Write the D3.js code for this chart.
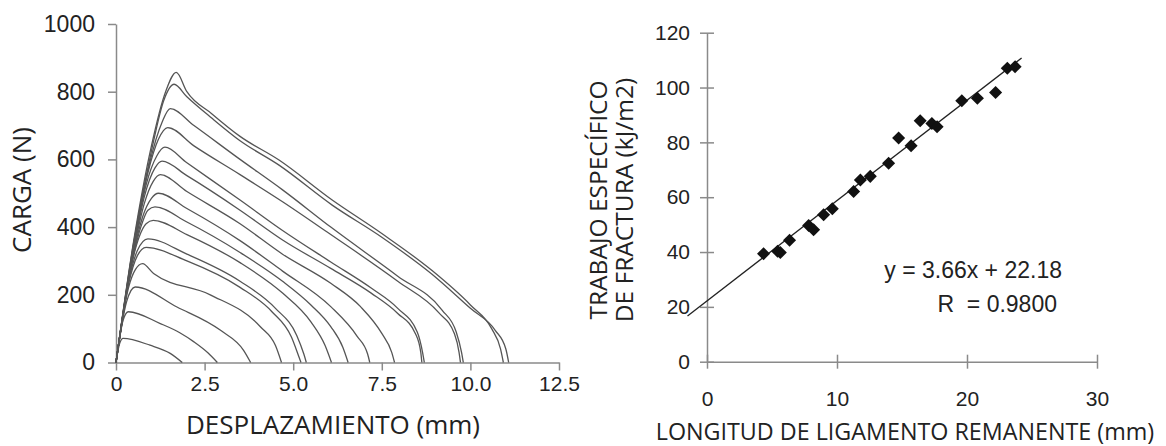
<!DOCTYPE html>
<html>
<head>
<meta charset="utf-8">
<script src="https://cdn.jsdelivr.net/npm/d3@7"></script>
<style>
  body { margin: 0; background: #fff; }
  svg { display: block; }
</style>
</head>
<body>
<div id="chart"></div>
<script>
// load-displacement curves, [mm, N]
const loadCurves = [
  [[0,0],[0.5,360],[1.0,640],[1.4,800],[1.7,857],[2.0,800],[2.7,735],[3.5,668],[4.6,598],[6.1,480],[7.5,381],[8.9,273],[10.0,170],[10.6,100],[10.85,40],[10.93,0]],
  [[0,0],[0.5,355],[1.0,625],[1.35,775],[1.64,822],[2.0,785],[2.7,722],[3.5,655],[4.6,583],[6.1,465],[7.5,370],[8.9,262],[10.0,160],[10.7,95],[11.0,40],[11.08,0]],
  [[0,0],[0.5,350],[0.95,590],[1.3,710],[1.53,750],[2.2,700],[3.5,600],[4.7,510],[6.06,400],[7.95,255],[9.2,155],[9.6,90],[9.75,30],[9.8,0]],
  [[0,0],[0.5,345],[0.9,560],[1.2,660],[1.46,694],[2.2,640],[3.5,555],[4.7,475],[6.06,378],[7.95,240],[9.1,148],[9.55,85],[9.68,30],[9.72,0]],
  [[0,0],[0.5,340],[0.85,525],[1.15,610],[1.38,636],[2.0,590],[3.5,480],[4.7,390],[6.06,297],[7.2,220],[7.95,160],[8.5,90],[8.65,30],[8.7,0]],
  [[0,0],[0.5,335],[0.8,490],[1.1,575],[1.3,595],[2.0,552],[3.5,450],[4.7,362],[6.06,278],[7.2,205],[7.95,145],[8.45,85],[8.6,30],[8.63,0]],
  [[0,0],[0.5,330],[0.8,470],[1.05,535],[1.25,555],[2.0,505],[3.5,410],[4.7,320],[6.06,234],[6.9,165],[7.5,86],[7.78,30],[7.86,0]],
  [[0,0],[0.45,300],[0.75,430],[1.0,485],[1.2,500],[2.0,455],[3.5,360],[4.7,270],[6.06,165],[6.8,78],[7.1,25],[7.16,0]],
  [[0,0],[0.45,295],[0.7,400],[0.9,450],[1.1,460],[2.0,415],[3.5,325],[4.7,240],[5.5,170],[6.06,106],[6.4,45],[6.55,0]],
  [[0,0],[0.4,270],[0.65,370],[0.85,410],[1.05,420],[2.0,378],[3.5,295],[4.7,205],[5.5,120],[5.9,50],[6.08,0]],
  [[0,0],[0.4,260],[0.6,330],[0.9,365],[2.0,320],[3.5,240],[4.5,160],[5.1,80],[5.3,25],[5.37,0]],
  [[0,0],[0.35,230],[0.6,315],[0.85,340],[2.0,300],[3.5,222],[4.4,150],[4.95,75],[5.15,20],[5.22,0]],
  [[0,0],[0.35,220],[0.55,275],[0.75,292],[1.06,263],[2.66,200],[4.08,105],[4.5,50],[4.67,0]],
  [[0,0],[0.3,180],[0.54,223],[1.72,164],[2.95,95],[3.6,36],[3.8,0]],
  [[0,0],[0.2,125],[0.35,150],[1.25,115],[1.8,88],[2.2,61],[2.6,28],[2.86,0]],
  [[0,0],[0.1,55],[0.2,71],[0.96,51],[1.53,27],[1.87,0]]
];
const leftXTicks = [0, 2.5, 5, 7.5, 10, 12.5];
const leftXLabels = ["0", "2.5", "5.0", "7.5", "10.0", "12.5"];
const leftYTicks = [0, 200, 400, 600, 800, 1000];

// work of fracture vs remaining ligament length
const ligament = [4.35, 5.43, 5.64, 6.35, 7.82, 8.2, 8.97, 9.64, 11.28, 11.8, 12.56, 13.97, 14.74, 15.7, 16.4, 17.3, 17.7, 19.6, 20.8, 22.2, 23.1, 23.7];
const workOfFracture = [39.4, 40.3, 39.8, 44.3, 49.7, 48.1, 53.6, 55.8, 62.1, 66.3, 67.6, 72.4, 81.6, 78.8, 87.9, 86.9, 85.7, 95.2, 96.1, 98.2, 107.0, 107.6];
const rightXTicks = [0, 10, 20, 30];
const rightYTicks = [0, 20, 40, 60, 80, 100, 120];
const fitSlope = 3.66, fitIntercept = 22.18, fitRange = [-1.5, 24.2];
const fitLabels = ["y = 3.66x + 22.18", "R  = 0.9800"];

const W = 1166, H = 446;
const tickFont = "'Liberation Sans', Arial, sans-serif";
const titleFont = "'Open Sans', sans-serif";

let svg = d3.select("#chart").append("svg")
  .attr("width", W)
  .attr("height", H);

function styleAxis(g) {
  g.select(".domain").style("stroke", "#8a8a8a").style("stroke-width", "1.5px");
  g.selectAll(".tick line").style("stroke", "#8a8a8a").style("stroke-width", "1.5px");
  g.selectAll(".tick text").style("font-family", tickFont).style("fill", "#222");
}

function drawLeft() {
  const x = d3.scaleLinear().domain([0, 12.5]).range([116, 559]);
  const y = d3.scaleLinear().domain([0, 1000]).range([362.5, 24]);

  let gx = svg.append("g")
    .attr("transform", "translate(0," + y(0) + ")")
    .call(d3.axisBottom(x).tickValues(leftXTicks).tickSize(8).tickPadding(6)
      .tickFormat((d, i) => leftXLabels[i]).tickSizeOuter(0));
  styleAxis(gx);
  gx.selectAll(".tick text").style("font-size", "21px");

  let gy = svg.append("g")
    .attr("transform", "translate(" + x(0) + ",0)")
    .call(d3.axisLeft(y).tickValues(leftYTicks).tickFormat(d3.format("d"))
      .tickSize(8).tickPadding(13).tickSizeOuter(0));
  styleAxis(gy);
  gy.selectAll(".tick text").style("font-size", "23px");

  const line = d3.line()
    .x(d => x(d[0]))
    .y(d => y(d[1]))
    .curve(d3.curveMonotoneX);

  svg.append("g").selectAll("path")
    .data(loadCurves)
    .enter()
    .append("path")
    .attr("d", line)
    .style("fill", "none")
    .style("stroke", "#555")
    .style("stroke-width", "1.3px");

  svg.append("text")
    .text("DESPLAZAMIENTO (mm)")
    .attr("x", 333).attr("y", 434)
    .attr("text-anchor", "middle")
    .style("font-family", titleFont).style("font-size", "26px").style("fill", "#222");

  svg.append("text")
    .text("CARGA (N)")
    .attr("text-anchor", "middle")
    .attr("transform", "translate(31,190) rotate(-90)")
    .style("font-family", titleFont).style("font-size", "26px").style("fill", "#222");
}

function drawRight() {
  const x = d3.scaleLinear().domain([0, 30]).range([707, 1097]);
  const y = d3.scaleLinear().domain([0, 120]).range([361.7, 32.7]);

  let gx = svg.append("g")
    .attr("transform", "translate(0," + y(0) + ")")
    .call(d3.axisBottom(x).tickValues(rightXTicks).tickSize(7).tickPadding(22).tickSizeOuter(0));
  styleAxis(gx);
  gx.selectAll(".tick line").attr("y1", -7);
  gx.selectAll(".tick text").style("font-size", "21px");

  let gy = svg.append("g")
    .attr("transform", "translate(" + x(0) + ",0)")
    .call(d3.axisLeft(y).tickValues(rightYTicks).tickSize(7).tickPadding(10).tickSizeOuter(0));
  styleAxis(gy);
  gy.selectAll(".tick line").attr("x1", 7);
  gy.selectAll(".tick text").style("font-size", "21px");

  svg.append("line")
    .attr("x1", x(fitRange[0])).attr("y1", y(fitSlope * fitRange[0] + fitIntercept))
    .attr("x2", x(fitRange[1])).attr("y2", y(fitSlope * fitRange[1] + fitIntercept))
    .style("stroke", "#222").style("stroke-width", "1.3px");

  const diamond = d3.symbol().type(d3.symbolSquare).size(85);
  svg.append("g").selectAll("path")
    .data(ligament)
    .enter()
    .append("path")
    .attr("d", diamond)
    .attr("transform", (d, i) => "translate(" + x(d) + "," + y(workOfFracture[i]) + ") rotate(45)")
    .style("fill", "#111");

  svg.append("text")
    .text(fitLabels[0])
    .attr("x", 1062).attr("y", 278)
    .attr("text-anchor", "end")
    .style("font-family", tickFont).style("font-size", "23px").style("fill", "#222");
  svg.append("text")
    .text(fitLabels[1])
    .attr("x", 1057).attr("y", 312)
    .attr("text-anchor", "end")
    .style("white-space", "pre")
    .style("font-family", tickFont).style("font-size", "23px").style("fill", "#222");

  svg.append("text")
    .text("LONGITUD DE LIGAMENTO REMANENTE (mm)")
    .attr("x", 905).attr("y", 440)
    .attr("text-anchor", "middle")
    .style("font-family", titleFont).style("font-size", "23.3px").style("fill", "#222");

  let yt = svg.append("text")
    .attr("text-anchor", "middle")
    .attr("transform", "translate(607,200) rotate(-90)")
    .style("font-family", titleFont).style("font-size", "24.5px").style("fill", "#222");
  yt.append("tspan").attr("x", 0).attr("dy", 0).text("TRABAJO ESPECÍFICO");
  yt.append("tspan").attr("x", 0).attr("dy", 26).text("DE FRACTURA (kJ/m2)");
}

drawLeft();
drawRight();
</script>
</body>
</html>
